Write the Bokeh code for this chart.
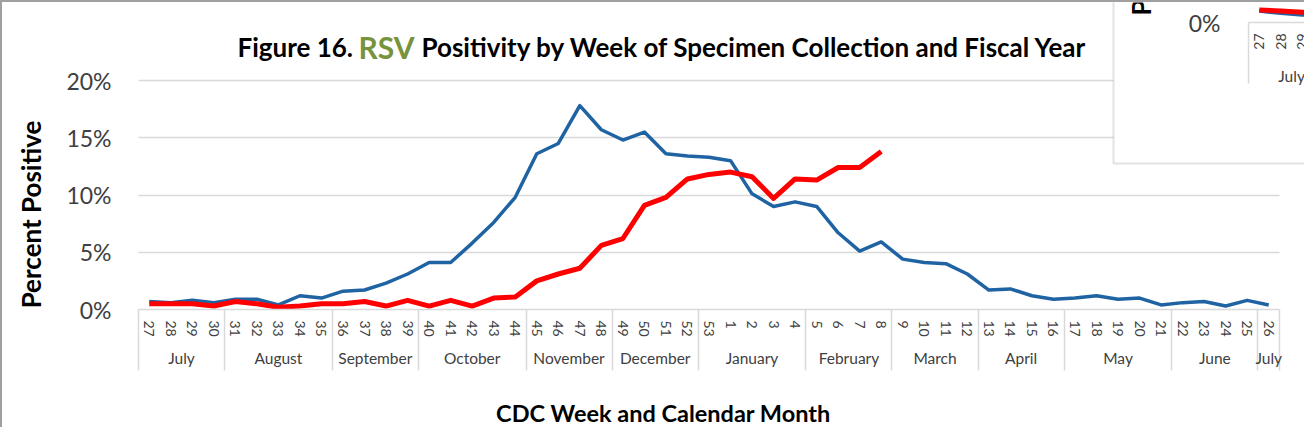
import math
from bokeh.plotting import figure
from bokeh.models import (Range1d, FixedTicker, LinearAxis, Label, BoxAnnotation,
                          PrintfTickFormatter, Grid)
from bokeh.core.properties import value
from bokeh.embed import file_html
from bokeh.resources import INLINE

# ---------------- data ----------------
weeks = ["27", "28", "29", "30", "31", "32", "33", "34", "35", "36", "37", "38", "39",
         "40", "41", "42", "43", "44", "45", "46", "47", "48", "49", "50", "51", "52",
         "53", "1", "2", "3", "4", "5", "6", "7", "8", "9", "10", "11", "12", "13", "14",
         "15", "16", "17", "18", "19", "20", "21", "22", "23", "24", "25", "26"]
prev_season = [0.7, 0.6, 0.8, 0.6, 0.9, 0.9, 0.4, 1.2, 1.0, 1.6, 1.7, 2.3, 3.1,
               4.1, 4.1, 5.8, 7.6, 9.8, 13.6, 14.5, 17.8, 15.7, 14.8, 15.5, 13.6, 13.4,
               13.3, 13.0, 10.1, 9.0, 9.4, 9.0, 6.7, 5.1, 5.9, 4.4, 4.1, 4.0, 3.1, 1.7, 1.8,
               1.2, 0.9, 1.0, 1.2, 0.9, 1.0, 0.4, 0.6, 0.7, 0.3, 0.8, 0.4]
curr_season = [0.5, 0.5, 0.5, 0.3, 0.7, 0.5, 0.2, 0.3, 0.5, 0.5, 0.7, 0.3, 0.8,
               0.3, 0.8, 0.3, 1.0, 1.1, 2.5, 3.1, 3.6, 5.6, 6.2, 9.1, 9.8, 11.4,
               11.8, 12.0, 11.6, 9.7, 11.4, 11.3, 12.4, 12.4, 13.8]
months = ["July", "August", "September", "October", "November", "December", "January",
          "February", "March", "April", "May", "June", "July"]
weeks_per_month = [4, 5, 4, 5, 4, 4, 5, 4, 4, 4, 5, 4, 1]
y_ticks = [0, 5, 10, 15, 20]

title_parts = ["Figure 16.", "RSV", "Positivity by Week of Specimen Collection and Fiscal Year"]
y_title = "Percent Positive"
x_title = "CDC Week and Calendar Month"

# partially visible neighbouring chart (top-right corner)
inset_weeks = ["27", "28", "29", "30"]
inset_prev = [1.0, 0.8, 0.65, 0.6]
inset_curr = [1.1, 1.0, 0.9, 0.8]
inset_months = ["July"]
inset_weeks_per_month = [4]

# ---------------- layout ----------------
W, H = 1304, 427
OFF = 2                  # css border
X0PX, Y0PX = 138, 309    # picture px of the plot's left edge / 0% line
PXW = 1141 / 53          # px per week
PXP = 229 / 20           # px per percent point
xs = -0.5 - (X0PX - OFF) / PXW
xe = -0.5 + (W + OFF - X0PX) / PXW
ys = -(H + OFF - Y0PX) / PXP
ye = (Y0PX - OFF) / PXP


def dx(img_x):
    return -0.5 + (img_x - X0PX) / PXW


def dy(img_y):
    return (Y0PX - img_y) / PXP


FONT = "Lato"
GRID = "#D9D9D9"
TXT = "#404040"
BLUE = "#1F63A3"
RED = "#FF0000"

p = figure(width=W, height=H, output_backend="svg", toolbar_location=None,
           x_range=Range1d(xs, xe), y_range=Range1d(ys, ye),
           x_axis_type=None, y_axis_type=None, min_border=0,
           outline_line_color=None,
           background_fill_color="white", border_fill_color="white")
p.styles = {"border-left": "2px solid #A0A0A0", "border-top": "2px solid #A0A0A0"}

xi = list(range(len(weeks)))
bnd = [-0.5]
for n in weeks_per_month:
    bnd.append(bnd[-1] + n)
m_centers = [(bnd[i] + bnd[i + 1]) / 2 for i in range(len(months))]

# week axis
xaxis = LinearAxis(fixed_location=0, ticker=FixedTicker(ticks=xi, minor_ticks=[]),
                   major_label_overrides={i: w for i, w in enumerate(weeks)},
                   major_label_orientation="vertical", bounds=(bnd[0], bnd[-1]))
xaxis.axis_line_color = GRID
xaxis.axis_line_width = 1.5
xaxis.major_tick_line_color = None
xaxis.major_tick_in = 0
xaxis.major_tick_out = 0
xaxis.minor_tick_line_color = None
xaxis.major_label_standoff = 11
xaxis.major_label_text_font = FONT
xaxis.major_label_text_font_size = "14px"
xaxis.major_label_text_color = TXT
p.add_layout(xaxis, "below")

# month separators
saxis = LinearAxis(fixed_location=0, ticker=FixedTicker(ticks=[], minor_ticks=bnd))
saxis.axis_line_color = None
saxis.major_tick_line_color = None
saxis.minor_tick_in = 0
saxis.minor_tick_out = 61
saxis.minor_tick_line_color = GRID
saxis.minor_tick_line_width = 1.5
p.add_layout(saxis, "below")

# month axis
maxis = LinearAxis(fixed_location=0, ticker=FixedTicker(ticks=m_centers, minor_ticks=[]),
                   major_label_overrides={c: m for c, m in zip(m_centers, months)})
maxis.axis_line_color = None
maxis.major_tick_line_color = None
maxis.major_tick_in = 0
maxis.major_tick_out = 0
maxis.minor_tick_line_color = None
maxis.major_label_standoff = 39
maxis.major_label_text_font = FONT
maxis.major_label_text_font_size = "15.5px"
maxis.major_label_text_color = TXT
p.add_layout(maxis, "below")

# y axis
yaxis = LinearAxis(fixed_location=-0.5, ticker=FixedTicker(ticks=y_ticks, minor_ticks=[]),
                   formatter=PrintfTickFormatter(format="%d%%"))
yaxis.axis_line_color = None
yaxis.major_tick_line_color = None
yaxis.major_tick_in = 0
yaxis.major_tick_out = 0
yaxis.minor_tick_line_color = None
yaxis.major_label_standoff = 27
yaxis.major_label_text_font = FONT
yaxis.major_label_text_font_size = "23px"
yaxis.major_label_text_color = TXT
p.add_layout(yaxis, "left")

p.add_layout(Grid(dimension=1, ticker=FixedTicker(ticks=y_ticks[1:]),
                  grid_line_color=GRID, grid_line_width=1.5,
                  cross_bounds=(bnd[0], bnd[-1])))

# series
p.line(x=xi, y=prev_season, line_color=BLUE, line_width=3.5, line_join="round")
p.line(x=list(range(len(curr_season))), y=curr_season, line_color=RED, line_width=5,
       line_join="round")

# titles
tx = [237, 358, 421]
tsize = ["26px", "30px", "26px"]
tcol = ["black", "#77933C", "black"]
for t, x, s, c in zip(title_parts, tx, tsize, tcol):
    p.add_layout(Label(x=dx(x), y=dy(46), text=t, text_font=FONT, text_font_style="bold",
                       text_font_size=s, text_color=c, text_align="left",
                       text_baseline="alphabetic"))

p.add_layout(Label(x=dx(30), y=dy(214), text=y_title, angle=math.pi / 2, text_font=FONT,
                   text_font_style="bold", text_font_size="26px", text_color="black",
                   text_align="center", text_baseline="middle"))
p.add_layout(Label(x=dx(663), y=dy(412), text=x_title, text_font=FONT,
                   text_font_style="bold", text_font_size="23.5px", text_color="black",
                   text_align="center", text_baseline="middle"))

# ---------------- neighbouring chart fragment ----------------
sx = (1248 - X0PX) / PXW
sy = (Y0PX - 22) / PXP
p.extra_x_ranges = {"inset": Range1d(xs - sx, xe - sx)}
p.extra_y_ranges = {"inset": Range1d(ys - sy, ye - sy)}

p.add_layout(BoxAnnotation(left=dx(1113), bottom=dy(163), right=xe + 10, top=ye + 10,
                           fill_color="white", fill_alpha=1.0,
                           line_color="#A0A0A0", line_width=2))

ib = [-0.5]
for n in inset_weeks_per_month:
    ib.append(ib[-1] + n)
ixi = list(range(len(inset_weeks)))
kw = dict(x_range_name="inset", y_range_name="inset", level="overlay")
p.segment(x0=[ib[0]], y0=[0], x1=[ib[-1] + 1], y1=[0], line_color=GRID, line_width=1.5, **kw)
p.segment(x0=ib[:1], y0=[0], x1=ib[:1], y1=[-61 / PXP], line_color=GRID, line_width=1.5, **kw)
p.text(x=ixi, y=[-11 / PXP] * len(ixi), text=inset_weeks, angle=math.pi / 2,
       text_align="right", text_baseline="middle", text_font=value(FONT),
       text_font_size="14px", text_color=TXT, **kw)
p.text(x=[(ib[i] + ib[i + 1]) / 2 for i in range(len(inset_months))],
       y=[-53 / PXP] * len(inset_months), text=inset_months, text_align="center",
       text_baseline="middle", text_font=value(FONT), text_font_size="15.5px",
       text_color=TXT, **kw)
p.line(x=ixi, y=inset_prev, line_color=BLUE, line_width=3.5, **kw)
p.line(x=ixi, y=inset_curr, line_color=RED, line_width=5, **kw)
p.add_layout(Label(x=-0.5 - 28 / PXW, y=0, x_range_name="inset", y_range_name="inset",
                   text="0%", text_font=FONT, text_font_size="23px", text_color=TXT,
                   text_align="right", text_baseline="middle"))
p.add_layout(Label(x=-0.5 - (1248 - 1140) / PXW, y=7 / PXP, x_range_name="inset",
                   y_range_name="inset", text=y_title, angle=math.pi / 2,
                   text_font=FONT, text_font_style="bold", text_font_size="26px",
                   text_color="black", text_align="left", text_baseline="middle"))

open("out.html", "w").write(file_html(p, INLINE))
